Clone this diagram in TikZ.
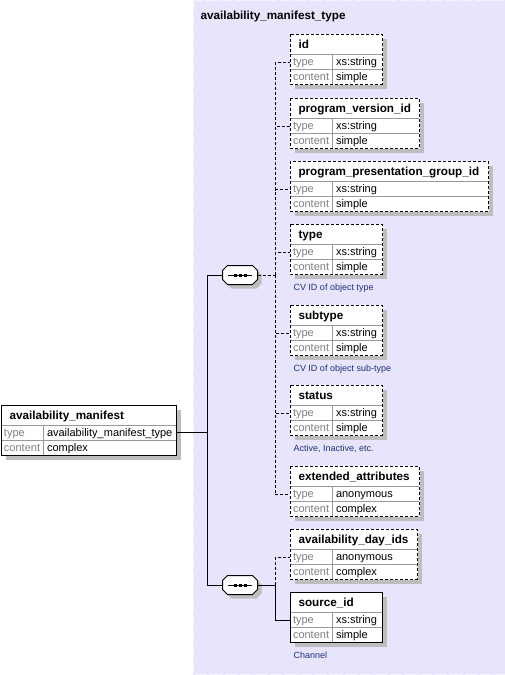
\documentclass[tikz,border=0pt]{standalone}
\usepackage{fontspec}
\setmainfont{Liberation Sans}
\usepackage{xcolor}
\usepackage{tikz}

\definecolor{bgpurple}{RGB}{232,228,252}
\definecolor{shadowgray}{RGB}{190,190,190}
\definecolor{notenavy}{RGB}{30,50,120}

% element box: name, x, y, width, title, type, content, frame style
\newcommand{\elembox}[8]{%
  \begin{scope}[shift={(#2,#3)}]
    \fill[shadowgray] (5,5) rectangle (#4+5,55);
    \fill[white] (0,0) rectangle (#4,50);
    \draw[rowline] (0,20) -- (#4,20) (0,35) -- (#4,35) (42.5,20) -- (42.5,50);
    \node[eltitle] (#1) at (8,14.5) {#5};
    \node[keytext] (#1-tk) at (0,31) {type};
    \node[valtext] (#1-tv) at (42.5,31) {#6};
    \node[keytext] (#1-ck) at (0,46) {content};
    \node[valtext] (#1-cv) at (42.5,46) {#7};
    \draw[#8] (0,0) rectangle (#4,50);
    \coordinate (#1-out) at (#4,27.5);
  \end{scope}}

\begin{document}
\begin{tikzpicture}[
  x=1pt, y=-1pt,
  font=\fontsize{11}{13}\selectfont,
  line width=1pt,
  eltitle/.style={anchor=base west, inner sep=0pt, font=\fontsize{11.7}{14}\selectfont\bfseries},
  keytext/.style={anchor=base west, inner xsep=3pt, inner ysep=0pt, outer sep=0pt, text=gray},
  valtext/.style={anchor=base west, inner xsep=3.5pt, inner ysep=0pt, outer sep=0pt},
  rowline/.style={draw=gray!80},
  optframe/.style={draw=black, dash pattern=on 3pt off 2pt, preaction={draw=white, solid}},
  reqframe/.style={draw=black},
  note/.style={anchor=base west, inner xsep=3pt, inner ysep=0pt, font=\fontsize{9}{11}\selectfont, text=notenavy},
  seqbox/.style={minimum width=35pt, minimum height=19pt, inner sep=0pt, outer sep=0pt},
  octagon/.style={insert path={(-12.5,-9.5) -- (12.5,-9.5) -- (17.5,-4.5) -- (17.5,4.5) -- (12.5,9.5)
    -- (-12.5,9.5) -- (-17.5,4.5) -- (-17.5,-4.5) -- cycle}},
  link/.style={draw=black},
  optlink/.style={draw=black, dash pattern=on 3pt off 2pt}
]
  \useasboundingbox (0,0) rectangle (505,675);
  \fill[bgpurple] (193,0) rectangle (506,675);
  \draw[white!55!bgpurple, dash pattern=on 12pt off 3pt] (193.5,0.5) rectangle (506,674.5);
  \node[eltitle] (mtype) at (200,19) {availability\_manifest\_type};

  % root element
  \elembox{am}{1}{405}{175}{availability\_manifest}{availability\_manifest\_type}{complex}{reqframe}

  % first sequence
  \elembox{id}{290}{34}{92}{id}{xs:string}{simple}{optframe}
  \elembox{pvid}{290}{98}{129}{program\_version\_id}{xs:string}{simple}{optframe}
  \elembox{ppgid}{290}{161}{198}{program\_presentation\_group\_id}{xs:string}{simple}{optframe}
  \elembox{type}{290}{224}{92}{type}{xs:string}{simple}{optframe}
  \node[note] (type-note) at (290,290) {CV ID of object type};
  \elembox{subtype}{290}{305}{92}{subtype}{xs:string}{simple}{optframe}
  \node[note] (subtype-note) at (290,371) {CV ID of object sub-type};
  \elembox{status}{290}{385}{92}{status}{xs:string}{simple}{optframe}
  \node[note] (status-note) at (290,451) {Active, Inactive, etc.};
  \elembox{extattr}{290}{466}{129}{extended\_attributes}{anonymous}{complex}{optframe}

  % second sequence
  \elembox{adi}{290}{529}{127}{availability\_day\_ids}{anonymous}{complex}{optframe}
  \elembox{src}{290}{592}{92}{source\_id}{xs:string}{simple}{reqframe}
  \node[note] (src-note) at (290,658) {Channel};

  \node[seqbox] (seq1) at (240,275) {};
  \node[seqbox] (seq2) at (240,585) {};
  \foreach \s in {seq1,seq2} {
    \fill[shadowgray, shift={(\s.center)}, xshift=4pt, yshift=-4pt] [octagon];
    \draw[link, fill=white, shift={(\s.center)}] [octagon];
    \draw[link] ([xshift=-12pt]\s.center) -- ([xshift=12pt]\s.center);
    \foreach \dx in {-5,0,5}
      \fill ([xshift=\dx pt]\s.center) +(-1.5,-1.5) rectangle +(1.5,1.5);
  }

  % connectors
  \draw[link] (am-out) -| ([xshift=-15pt]seq1.west) -- (seq1.west);
  \draw[link] ([xshift=-15pt]seq1.west) |- (seq2.west);
  \draw[optlink] (seq1.east) -- ++(17.5,0) coordinate (fan1);
  \foreach \e in {id,pvid,ppgid,type,subtype,status,extattr}
    \draw[optlink] (fan1) |- (\e-tk.west);
  \draw[link] (seq2.east) -- ++(17.5,0) coordinate (fan2) |- (src-tk.west);
  \draw[optlink] (fan2) |- (adi-tk.west);
\end{tikzpicture}
\end{document}
